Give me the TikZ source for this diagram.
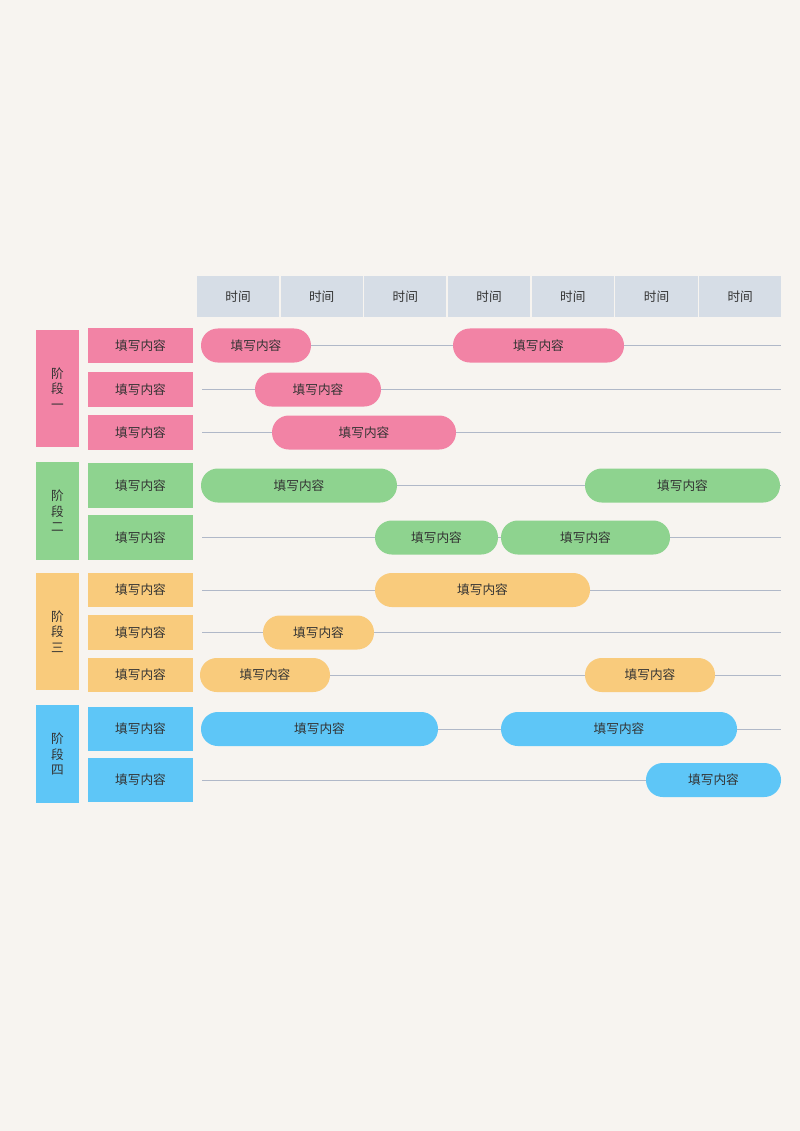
\documentclass[tikz,border=0pt]{standalone}
\usepackage{fontspec}
\setmainfont{Noto Sans CJK SC}
\usetikzlibrary{positioning}
\definecolor{bgc}{HTML}{F7F4F0}
\definecolor{hdc}{HTML}{D6DDE6}
\definecolor{pinkc}{HTML}{F283A5}
\definecolor{greenc}{HTML}{8ED38F}
\definecolor{yellowc}{HTML}{F9CB7C}
\definecolor{bluec}{HTML}{5EC6F7}
\definecolor{linec}{HTML}{B0B8C8}
\begin{document}
\begin{tikzpicture}[x=0.025cm, y=-0.025cm,
    cell/.style={fill=hdc, minimum width=2.05cm, minimum height=1.02cm, inner sep=0pt, font=\small, text=black!80},
    stagebox/.style={minimum width=1.08cm, inner sep=0pt, font=\small, text=black!80, align=center},
    rowbox/.style={minimum width=2.62cm, inner sep=0pt, font=\small, text=black!80},
    bar/.style={rounded corners=0.42cm, inner sep=0pt, minimum height=0.85cm, font=\small, text=black!80},
    track/.style={draw=linec, line width=0.5pt}]
    \fill[bgc] (0,0) rectangle (800,1131);
    % header
    \foreach \i in {0,...,6} {
        \node[cell] (t\i) at ({238+\i*83.7},296.5) {时间};
    }
    % stages
    \foreach \n/\c/\ya/\yb/\lab in {1/pinkc/330/447/阶\\段\\一, 2/greenc/462/560/阶\\段\\二,
                                   3/yellowc/573/690/阶\\段\\三, 4/bluec/705/803/阶\\段\\四} {
        \node[stagebox, fill=\c, minimum height={(\yb-\ya)*0.025cm}] (s\n) at (57.5,{(\ya+\yb)/2}) {\lab};
    }
    % rows
    \foreach \r/\c/\ya/\yb in {1/pinkc/328/363, 2/pinkc/372/407, 3/pinkc/415/450,
                              4/greenc/463/508, 5/greenc/515/560,
                              6/yellowc/573/607, 7/yellowc/615/650, 8/yellowc/658/692,
                              9/bluec/707/751, 10/bluec/758/802} {
        \node[rowbox, fill=\c, minimum height={(\yb-\ya)*0.025cm}] (r\r) at (140.5,{(\ya+\yb)/2}) {填写内容};
        \coordinate (a\r) at (202,{(\ya+\yb)/2});
        \coordinate (b\r) at (781,{(\ya+\yb)/2});
        \draw[track] (a\r) -- (b\r);
    }
    % bars
    \foreach \k/\r/\c/\xa/\xb in {1/1/pinkc/201/311, 2/1/pinkc/453/624, 3/2/pinkc/255/381, 4/3/pinkc/272/456,
                                 5/4/greenc/201/397, 6/4/greenc/585/780, 7/5/greenc/375/498, 8/5/greenc/501/670,
                                 9/6/yellowc/375/590, 10/7/yellowc/263/374, 11/8/yellowc/200/330, 12/8/yellowc/585/715,
                                 13/9/bluec/201/438, 14/9/bluec/501/737, 15/10/bluec/646/781} {
        \node[bar, fill=\c, minimum width={(\xb-\xa)*0.025cm}] (g\k) at ({(\xa+\xb)/2} , 0 |- a\r) {填写内容};
    }
\end{tikzpicture}
\end{document}
